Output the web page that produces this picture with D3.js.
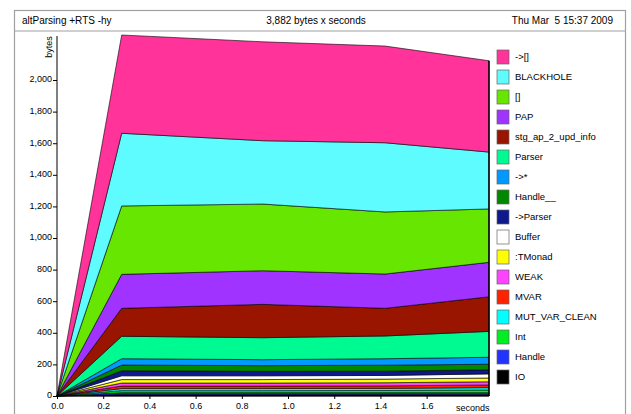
<!DOCTYPE html>
<html>
<head>
<meta charset="utf-8">
<script src="https://cdn.jsdelivr.net/npm/d3@7"></script>
<style>
  html, body { margin: 0; padding: 0; background: #fff; }
  svg { display: block; font-family: "Liberation Sans", Arial, Helvetica, sans-serif; }
</style>
</head>
<body>
<svg id="chart" width="631" height="414"></svg>
<script>
// Heap profile samples (seconds)
const times = [0, 0.28, 0.89, 1.42, 1.87];

// Closure types, bottom of the stack first
const bands = ["IO", "Handle", "Int", "MUT_VAR_CLEAN", "MVAR", "WEAK", ":TMonad", "Buffer",
               "->Parser", "Handle__", "->*", "Parser", "stg_ap_2_upd_info", "PAP", "[]",
               "BLACKHOLE", "->[]"];

const bandColors = ["#000000", "#2233ff", "#00ee22", "#00ffff", "#ff2200", "#ff44ff", "#ffff00", "#ffffff",
                    "#0e1a8c", "#008800", "#0099ff", "#00fa92", "#991500", "#a033ff", "#66e600",
                    "#5ffcff", "#ff3399"];

// Bytes per closure type at each sample
const IO            = [0, 10, 10, 10, 10];
const Handle        = [0, 11, 11, 11, 11];
const Int           = [0, 13, 13, 14, 17];
const MUT_VAR_CLEAN = [0, 13, 13, 13, 15];
const MVAR          = [0, 16, 16, 16, 17];
const WEAK          = [0, 19, 19, 20, 20];
const TMonad        = [0, 22, 22, 23, 24];
const Buffer        = [0, 24, 24, 23, 26];
const toParser      = [0, 32, 28, 27, 26];
const Handle__      = [0, 36, 36, 38, 35];
const toStar        = [0, 40, 38, 41, 44];
const Parser        = [0, 142, 139, 144, 164];
const stgAp2        = [0, 177, 211, 175, 219];
const PAP           = [0, 215, 213, 217, 218];
const nil           = [0, 433, 422, 393, 338];
const BLACKHOLE     = [0, 460, 401, 438, 360];
const toList        = [0, 622, 626, 612, 578];

const series = [IO, Handle, Int, MUT_VAR_CLEAN, MVAR, WEAK, TMonad, Buffer, toParser,
                Handle__, toStar, Parser, stgAp2, PAP, nil, BLACKHOLE, toList];

const yTicks = [0, 200, 400, 600, 800, 1000, 1200, 1400, 1600, 1800, 2000];
const xTicks = [0, 0.2, 0.4, 0.6, 0.8, 1.0, 1.2, 1.4, 1.6];

const headerLeft = "altParsing +RTS -hy";
const headerMid = "3,882 bytes x seconds";
const headerRight = "Thu Mar  5 15:37 2009";

const rows = times.map((t, i) => {
  const r = { t };
  bands.forEach((b, k) => { r[b] = series[k][i]; });
  return r;
});

const svg = d3.select("#chart");

// Page frame and header box
svg.append("rect").attr("x", 14.5).attr("y", 10.5).attr("width", 611).attr("height", 430)
  .attr("fill", "none").attr("stroke", "#a0a0a0").attr("stroke-width", 1.2);
svg.append("line").attr("x1", 14.5).attr("x2", 625.5).attr("y1", 31).attr("y2", 31)
  .attr("stroke", "#a0a0a0").attr("stroke-width", 1.2);

const hdr = svg.append("g").attr("font-size", 10).attr("fill", "#000");
hdr.append("text").attr("x", 22).attr("y", 24).text(headerLeft);
hdr.append("text").attr("x", 316).attr("y", 24).attr("text-anchor", "middle").text(headerMid);
hdr.append("text").attr("x", 613).attr("y", 24).attr("text-anchor", "end")
  .attr("xml:space", "preserve").style("white-space", "pre").text(headerRight);

const x = d3.scaleLinear().domain([0, 1.87]).range([57, 489]);
const y = d3.scaleLinear().domain([0, 2285]).range([396, 35]);

const stacked = d3.stack().keys(bands)(rows);

const area = d3.area()
  .x(d => x(d.data.t))
  .y0(d => y(d[0]))
  .y1(d => y(d[1]));

svg.append("g").selectAll("path")
  .data(stacked)
  .join("path")
  .attr("d", area)
  .attr("fill", (d, i) => bandColors[i])
  .attr("stroke", "#000")
  .attr("stroke-width", 0.6)
  .attr("stroke-linejoin", "round");

// Closing edge at the final sample
svg.append("line")
  .attr("x1", x(times[times.length - 1])).attr("x2", x(times[times.length - 1]))
  .attr("y1", y(0)).attr("y2", y(d3.sum(series, s => s[s.length - 1])))
  .attr("stroke", "#000").attr("stroke-width", 1.5);

// Axes
const yAxis = d3.axisLeft(y).tickValues(yTicks).tickFormat(d3.format(",")).tickSize(4).tickPadding(1);
const gy = svg.append("g").attr("transform", `translate(${x(0)},0)`).call(yAxis);
gy.select(".domain").attr("d", `M0,${y(0)}V36`).attr("stroke", "#000");
gy.selectAll("text").attr("font-size", 9).attr("font-family", null).attr("dy", "0.2em");

const xAxis = d3.axisBottom(x).tickValues(xTicks).tickFormat(d3.format(".1f")).tickSize(3).tickPadding(4);
const gx = svg.append("g").attr("transform", `translate(0,${y(0)})`).call(xAxis);
gx.select(".domain").attr("d", `M${x(0)},0H${x(1.87)}`).attr("stroke", "#000");
gx.selectAll("text").attr("font-size", 9).attr("font-family", null);

svg.append("text").attr("x", x(1.8)).attr("y", 411).attr("text-anchor", "middle")
  .attr("font-size", 9).text("seconds");
svg.append("text").attr("transform", `translate(52,47) rotate(-90)`)
  .attr("text-anchor", "middle").attr("font-size", 9).text("bytes");

// Legend, top of the stack first
const legend = svg.append("g");
const order = d3.range(bands.length).reverse();
order.forEach((k, row) => {
  const cy = 57 + row * 20;
  legend.append("rect").attr("x", 497).attr("y", cy - 7).attr("width", 12).attr("height", 14)
    .attr("fill", bandColors[k]).attr("stroke", "#666").attr("stroke-width", 0.7);
  legend.append("text").attr("x", 515).attr("y", cy + 3.3).attr("font-size", 9.5).text(bands[k]);
});
</script>
</body>
</html>
